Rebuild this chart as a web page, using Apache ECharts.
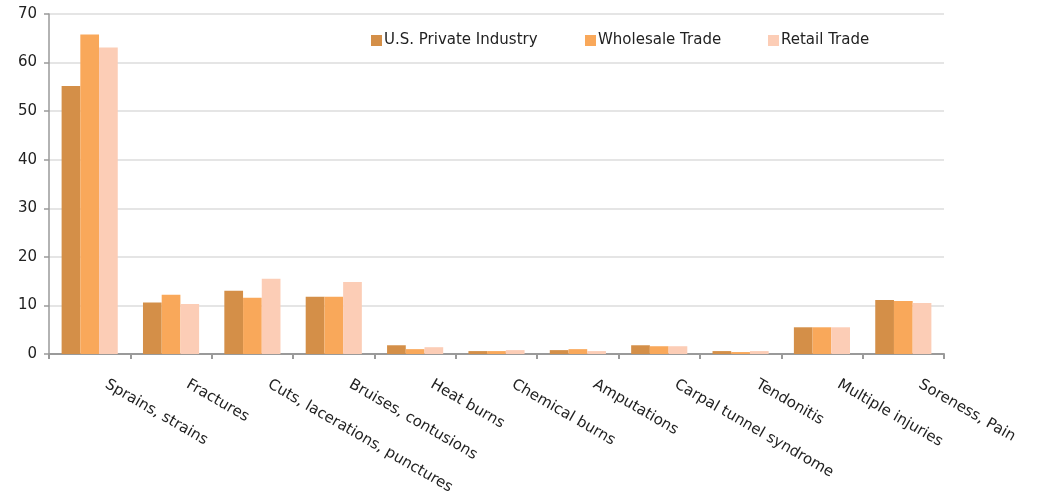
<!DOCTYPE html>
<html>
<head>
<meta charset="utf-8">
<script src="https://cdn.jsdelivr.net/npm/echarts@6/dist/echarts.min.js"></script>
<style>html,body{margin:0;padding:0;background:#fff}#c{width:1042px;height:496px}</style>
</head>
<body>
<div id="c"></div>
<script>
const categories = ["Sprains, strains","Fractures","Cuts, lacerations, punctures","Bruises, contusions","Heat burns","Chemical burns","Amputations","Carpal tunnel syndrome","Tendonitis","Multiple injuries","Soreness, Pain"];
const privateIndustry = [55.2, 10.6, 13.0, 11.8, 1.8, 0.6, 0.8, 1.8, 0.6, 5.5, 11.1];
const wholesaleTrade = [65.8, 12.2, 11.6, 11.8, 1.0, 0.6, 1.0, 1.6, 0.4, 5.5, 10.9];
const retailTrade = [63.1, 10.3, 15.5, 14.8, 1.4, 0.8, 0.6, 1.6, 0.6, 5.5, 10.5];
const seriesNames = ["U.S. Private Industry","Wholesale Trade","Retail Trade"];
const colors = ["#D48F48","#F9A85A","#FCCDB6"];
const font = "DejaVu Sans, Verdana, sans-serif";

const chart = echarts.init(document.getElementById('c'));
const legendPos = [366, 580, 763];
chart.setOption({
  animation: false,
  textStyle: {fontFamily: font},
  legend: seriesNames.map((n, i) => ({
    data: [n], left: legendPos[i], top: 28, itemWidth: 11, itemHeight: 11,
    icon: 'rect', itemGap: 5,
    textStyle: {fontFamily: font, fontSize: 15, color: '#222', padding: [0,0,0,-3]}
  })),
  grid: {left: 49, right: 98, top: 14, bottom: 142, containLabel: false, outerBoundsMode: 'none'},
  xAxis: {
    type: 'category', data: categories,
    axisLine: {lineStyle: {color: '#9a9a9a', width: 2}},
    axisTick: {show: true, length: 5, lineStyle: {color: '#9a9a9a', width: 2}},
    axisLabel: {rotate: -30, interval: 0, margin: 20, fontFamily: font, fontSize: 15, color: '#222', padding: [0,0,0,19]}
  },
  yAxis: {
    type: 'value', min: 0, max: 70, interval: 10,
    axisLine: {show: true, lineStyle: {color: '#9a9a9a', width: 1.5}},
    axisTick: {show: true, length: 5, lineStyle: {color: '#9a9a9a', width: 1.5}},
    axisLabel: {fontFamily: font, fontSize: 15, color: '#222', margin: 12},
    splitLine: {lineStyle: {color: '#dddddd', width: 1.5}}
  },
  series: [privateIndustry, wholesaleTrade, retailTrade].map((d, i) => ({
    name: seriesNames[i], type: 'bar', data: d, barGap: '0%', barCategoryGap: '31%',
    itemStyle: {color: colors[i]}
  }))
});
</script>
</body>
</html>
